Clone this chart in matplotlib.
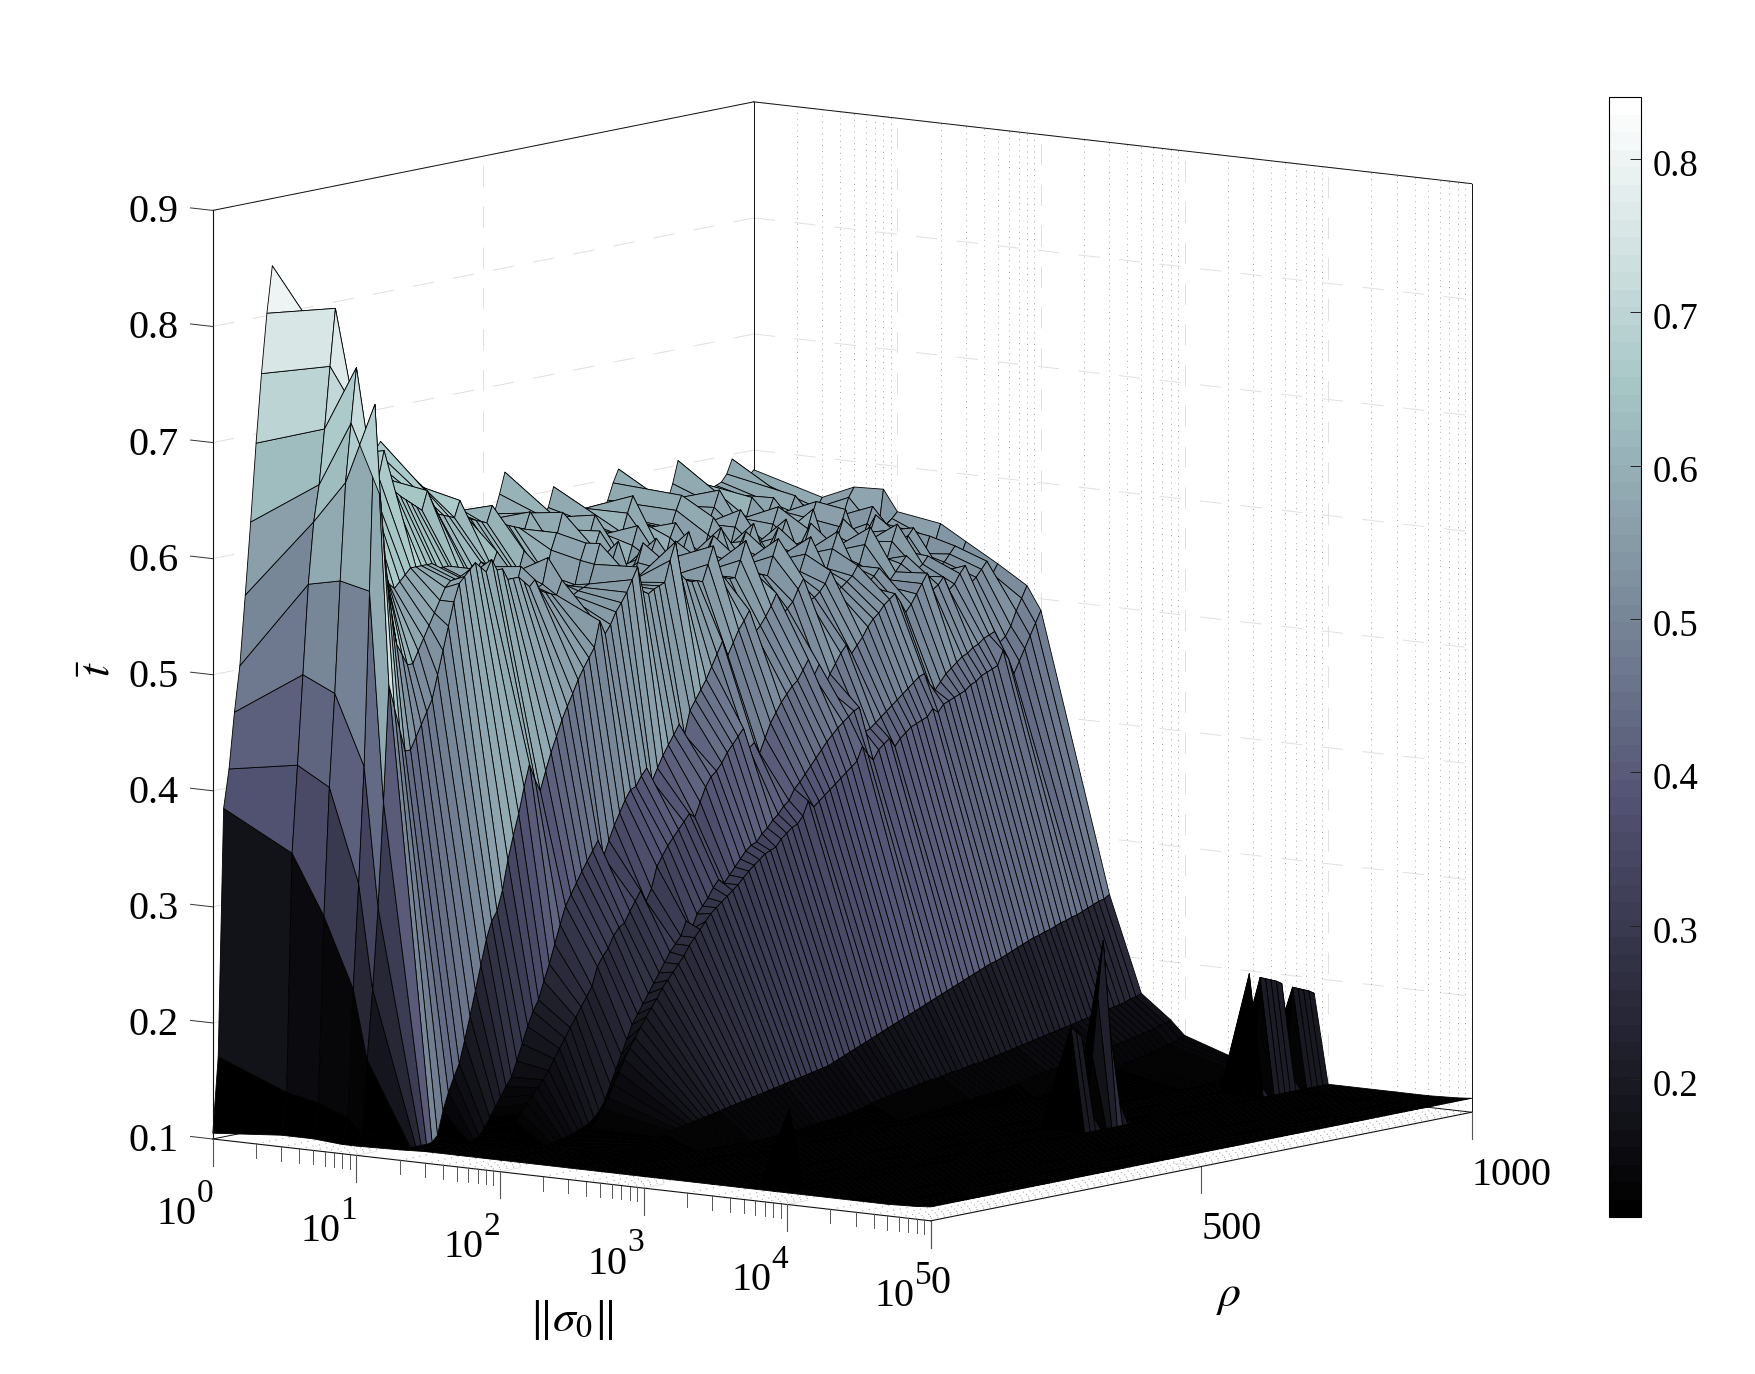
from matplotlib import pyplot as plt
from matplotlib.cm import ScalarMappable
from matplotlib.colors import Normalize
from matplotlib.transforms import ScaledTranslation
from mpl_toolkits.mplot3d import proj3d
import numpy as np

plt.rcParams['font.family'] = ['Liberation Serif', 'DejaVu Serif']
plt.rcParams['mathtext.fontset'] = 'stix'

W, H = 1756, 1374
FS = 29

# sigma columns, rho rows 0,10,...,1000
sigma = [1, 3, 5, 8, 10, 20, 30, 50, 80, 100, 300, 500, 800, 1000, 3000, 5000, 8000,
         1e4, 3e4, 5e4, 8e4, 1e5]
rho = list(range(0, 1001, 10))

# t values, in thousandths, one list per sigma
t_s1 = [105,170,383,416,464,503,563,625,692,751,
        802,842,790,750,722,703,690,680,674,669,
        664,660,655,650,660,655,650,650,655,660,
        665,672,663,640,625,618,625,632,606,600,
        598,596,594,592,590,588,586,584,584,582,
        582,582,590,606,624,596,582,580,580,578,
        578,578,586,603,586,578,576,576,574,574,
        574,574,572,582,596,607,590,576,574,574,
        572,572,572,570,570,585,604,588,574,572,
        572,572,574,576,578,584,596,586,580,578,583]
t_s3 = [110,146,351,426,503,580,633,664,711,764,
        813,760,720,690,672,660,655,650,660,682,
        650,645,640,636,632,628,624,640,628,618,
        616,614,612,626,612,608,606,604,602,616,
        602,598,596,594,592,590,604,590,586,584,
        582,580,598,582,578,576,576,574,590,574,
        572,572,570,570,586,600,578,570,568,568,
        568,566,566,580,592,572,566,566,564,564,
        576,590,570,564,564,562,562,578,564,562,
        562,574,562,560,560,572,560,560,558,558,566]
t_s5 = [110,140,300,410,490,586,670,720,767,720,
        670,640,610,590,575,570,575,580,585,585,
        585,585,585,580,580,580,575,575,575,570,
        570,578,575,572,584,570,568,566,564,580,
        562,558,556,556,576,590,564,556,556,554,
        554,552,570,584,558,552,552,550,550,566,
        582,556,550,550,550,548,566,578,552,548,
        548,546,546,562,576,552,546,546,564,578,
        552,546,546,544,544,560,574,550,544,544,
        544,542,558,572,548,542,542,540,556,570,578]
t_s8 = [108,130,240,330,430,580,740,660,600,560,
        530,520,510,510,520,530,540,550,560,570,
        575,575,575,570,570,580,570,570,565,565,
        560,560,556,575,552,552,554,556,578,556,
        552,552,550,550,570,584,556,550,550,548,
        566,580,552,548,548,546,546,564,576,550,
        546,546,544,562,576,550,544,544,544,560,
        574,548,544,542,542,558,572,546,542,542,
        540,556,570,546,540,540,558,574,548,540,
        540,538,554,568,544,538,538,552,566,542,579]
t_s10 = [108,120,180,240,310,400,500,480,460,440,
         440,450,460,470,480,500,520,540,560,575,
         580,585,590,585,580,590,580,580,570,570,
         570,565,560,565,555,552,550,548,560,545,
         545,548,550,552,568,585,556,550,548,548,
         546,546,562,578,552,546,546,544,560,574,
         550,544,544,542,542,558,572,548,542,540,
         540,556,570,546,540,540,538,554,568,546,
         540,538,538,552,566,546,538,538,536,550,
         564,544,536,536,534,548,562,542,552,556,561]
t_s20 = [109,109,109,109,109,109,110,115,135,150,
         162,173,192,212,233,254,275,290,298,315,
         340,360,378,400,419,405,394,410,425,438,
         451,462,472,483,492,500,508,530,518,525,
         535,542,550,560,570,548,545,548,550,552,
         570,585,556,550,548,548,546,560,575,550,
         546,544,544,558,574,548,542,542,540,556,
         570,546,540,538,538,552,566,544,538,536,
         552,566,542,536,534,534,550,564,540,534,
         532,548,562,538,550,556,534,532,546,540,555]
t_s30 = [110,110,110,110,110,110,110,110,111,112,
         114,120,128,136,144,152,159,172,186,200,
         212,221,236,250,266,282,297,306,315,324,
         332,340,348,333,346,358,368,378,386,388,
         396,402,390,400,410,418,426,434,424,444,
         452,460,468,478,488,498,485,495,505,512,
         520,500,505,512,520,530,510,515,520,530,
         538,518,520,524,530,540,522,524,528,532,
         540,522,524,528,534,518,522,528,534,540,
         522,526,530,536,520,524,528,534,540,530,542]
t_s50 = [110,110,110,110,110,110,110,110,113,115,
         120,128,135,142,148,154,160,167,176,184,
         192,200,208,216,224,232,248,256,262,272,
         278,281,290,298,306,296,306,324,332,340,
         346,352,358,364,360,372,384,392,396,402,
         410,416,422,428,410,414,404,416,428,436,
         444,450,456,460,468,476,461,470,450,460,
         468,476,482,474,480,486,494,500,504,510,
         514,518,510,500,506,514,522,530,515,518,
         524,512,516,524,530,514,518,524,530,518,526]
t_s80 = [110,110,110,110,110,110,110,110,110,110,
         110,111,112,113,114,115,116,118,120,122,
         126,130,140,152,164,176,188,200,208,216,
         224,232,240,248,256,262,268,280,272,284,
         290,296,304,310,306,312,318,324,330,334,
         336,342,346,352,356,362,366,375,380,386,
         392,398,404,410,415,420,424,428,432,434,
         412,414,418,422,426,430,434,438,442,446,
         450,452,442,436,442,448,452,456,460,462,
         466,468,472,474,476,466,470,478,490,500,510]
t_s100 = [110,110,110,110,110,110,110,110,110,110,
          110,110,110,111,112,115,118,122,128,136,
          145,155,165,175,184,192,200,208,215,222,
          230,236,242,248,254,262,268,274,280,286,
          290,294,298,302,306,311,316,320,324,328,
          330,332,338,342,346,348,354,366,360,364,
          368,372,376,380,384,388,392,404,396,390,
          398,402,406,398,404,408,412,414,416,418,
          424,420,426,428,430,432,434,438,440,444,
          446,448,450,462,454,440,450,460,470,480,490]
t_s300 = [110,110,110,110,110,110,110,111,112,113,
          114,115,116,117,118,119,120,121,122,124,
          125,126,127,128,129,130,131,132,133,134,
          135,136,137,138,139,140,141,142,143,144,
          145,146,147,148,149,150,151,152,153,155,
          157,159,161,163,165,167,169,171,173,175,
          177,179,181,183,185,187,189,191,193,195,
          197,199,201,203,205,207,209,211,213,214,
          216,218,220,222,224,226,228,229,231,232,
          234,236,237,239,240,242,244,246,248,249,252]
t_s500 = [110]*35 + [
          111,112,112,113,113,114,114,115,115,116,116,117,118,119,120,
          122,123,124,125,126,127,128,128,129,130,
          131,132,132,133,134,135,135,136,137,138,
          138,139,140,141,142,143,144,145,146,147,
          148,149,150,151,152,153,154,155,156,157,
          158,159,160,161,162,163,164,165,167,168,170]
t_s800 = [110]*50 + [
          110,110,111,111,112,112,113,113,114,114,
          115,115,116,116,117,117,118,118,119,119,
          120,121,122,123,124,125,126,127,128,128,
          129,130,131,132,133,134,135,136,136,137,
          138,139,140,141,142,143,144,145,147,148,150]
t_s1e3 = [110]*70 + [
          110,110,111,111,112,112,113,114,114,115,
          116,117,118,118,119,120,121,122,123,124,
          125,126,127,128,129,130,131,133,134,136,138]
t_s3e3 = [110]*90 + [110,110,111,112,113,114,115,116,117,118,118]
t_s5e3 = [110]*90 + [110,110,110,110,111,111,112,112,113,114,115]
# the isolated spikes
t_s8e3 = [110]*3 + [178] + [110]*51 + [200,195,190, 130,170,220,269,200,140,118] + [110]*23 + [
          215,125, 210,208,206,204,201, 125, 196,194,192,190,187]
t_s1e4 = [110]*101
t_s3e4 = [110]*101
t_s5e4 = [110]*101
t_s8e4 = [111]*101
t_s1e5 = [112]*101

t_columns = [t_s1, t_s3, t_s5, t_s8, t_s10, t_s20, t_s30, t_s50, t_s80, t_s100, t_s300, t_s500,
             t_s800, t_s1e3, t_s3e3, t_s5e3, t_s8e3, t_s1e4, t_s3e4, t_s5e4, t_s8e4, t_s1e5]

z_ticks = [0.1, 0.2, 0.3, 0.4, 0.5, 0.6, 0.7, 0.8, 0.9]
x_majors = [0, 1, 2, 3, 4, 5]
rho_ticks = [0, 500, 1000]
cbar_ticks = [0.2, 0.3, 0.4, 0.5, 0.6, 0.7, 0.8]

x_minors = [k + np.log10(m) for k in range(5) for m in range(2, 10)]

fig = plt.figure(figsize=(W / 100, H / 100), dpi=100)
ax = fig.add_axes([0, 0, 1, 1], projection='3d', computed_zorder=False)
ax.set_proj_type('ortho')
ax.view_init(elev=8.7, azim=-53)
ax.set_box_aspect((1, 1, 1.045))
ax.set_xlim(0, 5)
ax.set_ylim(0, 1000)
ax.set_zlim(0.1, 0.9)
ax.set_axis_off()


def px(x, y, z):
    xx, yy, _ = proj3d.proj_transform(x, y, z, ax.get_proj())
    return ax.transData.transform((xx, yy))


# fit the box onto the corners of the reference
ax.apply_aspect()
a = px(0, 0, 0.1)
r = px(5, 1000, 0.1)
k = (1471.7 - 212.8) / (r[0] - a[0])
w, h = k * H / W, k
ax.set_position([0, 0, w, h])
ax.apply_aspect()
a = px(0, 0, 0.1)
ax.set_position([(212.8 - a[0]) / W, (H - 1139 - a[1]) / H, w, h])
ax.apply_aspect()

GRID = '#e0e0e0'
DOT = '#a8a8a8'
dash = (0, (22, 20))
dot = (0, (1, 5))

# grid on the walls and floor
for zt in z_ticks[1:]:
    ax.plot([0, 0], [0, 1000], [zt, zt], color=GRID, lw=0.7, ls=dash, zorder=1)
    ax.plot([0, 5], [1000, 1000], [zt, zt], color=GRID, lw=0.7, ls=dash, zorder=1)
for xt in x_majors[1:-1]:
    ax.plot([xt, xt], [1000, 1000], [0.1, 0.9], color=GRID, lw=0.7, ls=dash, zorder=1)
    ax.plot([xt, xt], [0, 1000], [0.1, 0.1], color=GRID, lw=0.7, ls=dash, zorder=1)
for xt in x_minors:
    ax.plot([xt, xt], [1000, 1000], [0.1, 0.9], color=DOT, lw=0.7, ls=dot, zorder=1)
    ax.plot([xt, xt], [0, 1000], [0.1, 0.1], color=DOT, lw=0.8, ls=dot, zorder=1)
ax.plot([0, 0], [500, 500], [0.1, 0.9], color=GRID, lw=0.7, ls=dash, zorder=1)
ax.plot([0, 5], [500, 500], [0.1, 0.1], color=GRID, lw=0.7, ls=dash, zorder=1)

# back edges of the box
box = [((0, 0), (0, 1000), (0.9, 0.9)), ((0, 5), (1000, 1000), (0.9, 0.9)),
       ((0, 0), (1000, 1000), (0.1, 0.9)), ((5, 5), (1000, 1000), (0.1, 0.9)),
       ((0, 0), (0, 1000), (0.1, 0.1)), ((0, 5), (1000, 1000), (0.1, 0.1))]
for bx, by, bz in box:
    ax.plot(bx, by, bz, color='#111111', lw=0.7, zorder=1)

# surface
cmap = plt.get_cmap('bone', 64)
norm = Normalize(0.11, 0.84)
X, Y = np.meshgrid(np.log10(sigma), rho)
Z = np.array(t_columns).T / 1000.0
surf = ax.plot_surface(X, Y, Z, rstride=1, cstride=1, facecolors=cmap(norm(Z)),
                       shade=False, zorder=2)
surf.set_edgecolor('black')
surf.set_linewidth(0.6)

# front axes and ticks
for bx, by, bz in [((0, 0), (0, 0), (0.1, 0.9)), ((0, 5), (0, 0), (0.1, 0.1)),
                   ((5, 5), (0, 1000), (0.1, 0.1))]:
    ax.plot(bx, by, bz, color='#111111', lw=0.8, zorder=3)
for zt in z_ticks:
    ax.plot([0, -0.155], [0, 0], [zt, zt], color='#333333', lw=0.7, zorder=3)
    p = px(-0.155, 0, zt)
    fig.text((p[0] - 12) / W, (p[1] - 5) / H, '%.1f' % zt, ha='right', va='center', fontsize=FS)
for xt in x_majors:
    ax.plot([xt, xt], [0, 0], [0.1, 0.077], color='#555555', lw=0.8, zorder=3)
    p = px(xt, 0, 0.1)
    fig.text((p[0] - 56) / W, (p[1] - 76) / H, '10', ha='left', va='center', fontsize=FS)
    fig.text((p[0] - 16) / W, (p[1] - 55) / H, '%d' % xt, ha='left', va='center', fontsize=24)
for xt in x_minors:
    ax.plot([xt, xt], [0, 0], [0.1, 0.088], color='#555555', lw=0.7, zorder=3)
for rt in rho_ticks:
    ax.plot([5, 5], [rt, rt], [0.1, 0.077], color='#555555', lw=0.8, zorder=3)
    p = px(5, rt, 0.1)
    fig.text(p[0] / W, (p[1] - 63) / H, str(rt), ha='left', va='center', fontsize=FS)

fig.text(98 / W, (H - 668) / H, r'$\bar{t}$', rotation=90, ha='center', va='center', fontsize=33)
fig.text(571 / W, (H - 1320) / H, r'$\|\sigma_0\|$', ha='center', va='center', fontsize=33)
fig.text(1229 / W, (H - 1296) / H, r'$\rho$', ha='center', va='center', fontsize=33)

# colorbar
cax = fig.add_axes([1609.4 / W, (H - 1217.4) / H, 32 / W, 1120 / H])
cb = fig.colorbar(ScalarMappable(norm=norm, cmap=cmap), cax=cax, ticks=cbar_ticks)
cb.ax.tick_params(direction='in', length=8, width=0.7, pad=8, labelsize=26.5, color='#222222')
cb.ax.set_yticklabels(['%.1f' % v for v in cbar_ticks])
for lbl in cb.ax.get_yticklabels():
    lbl.set_transform(lbl.get_transform() + ScaledTranslation(0, -3.5 / 100, fig.dpi_scale_trans))
cb.outline.set_linewidth(0.8)
cb.minorticks_off()

fig.savefig('out.png', dpi=100)
